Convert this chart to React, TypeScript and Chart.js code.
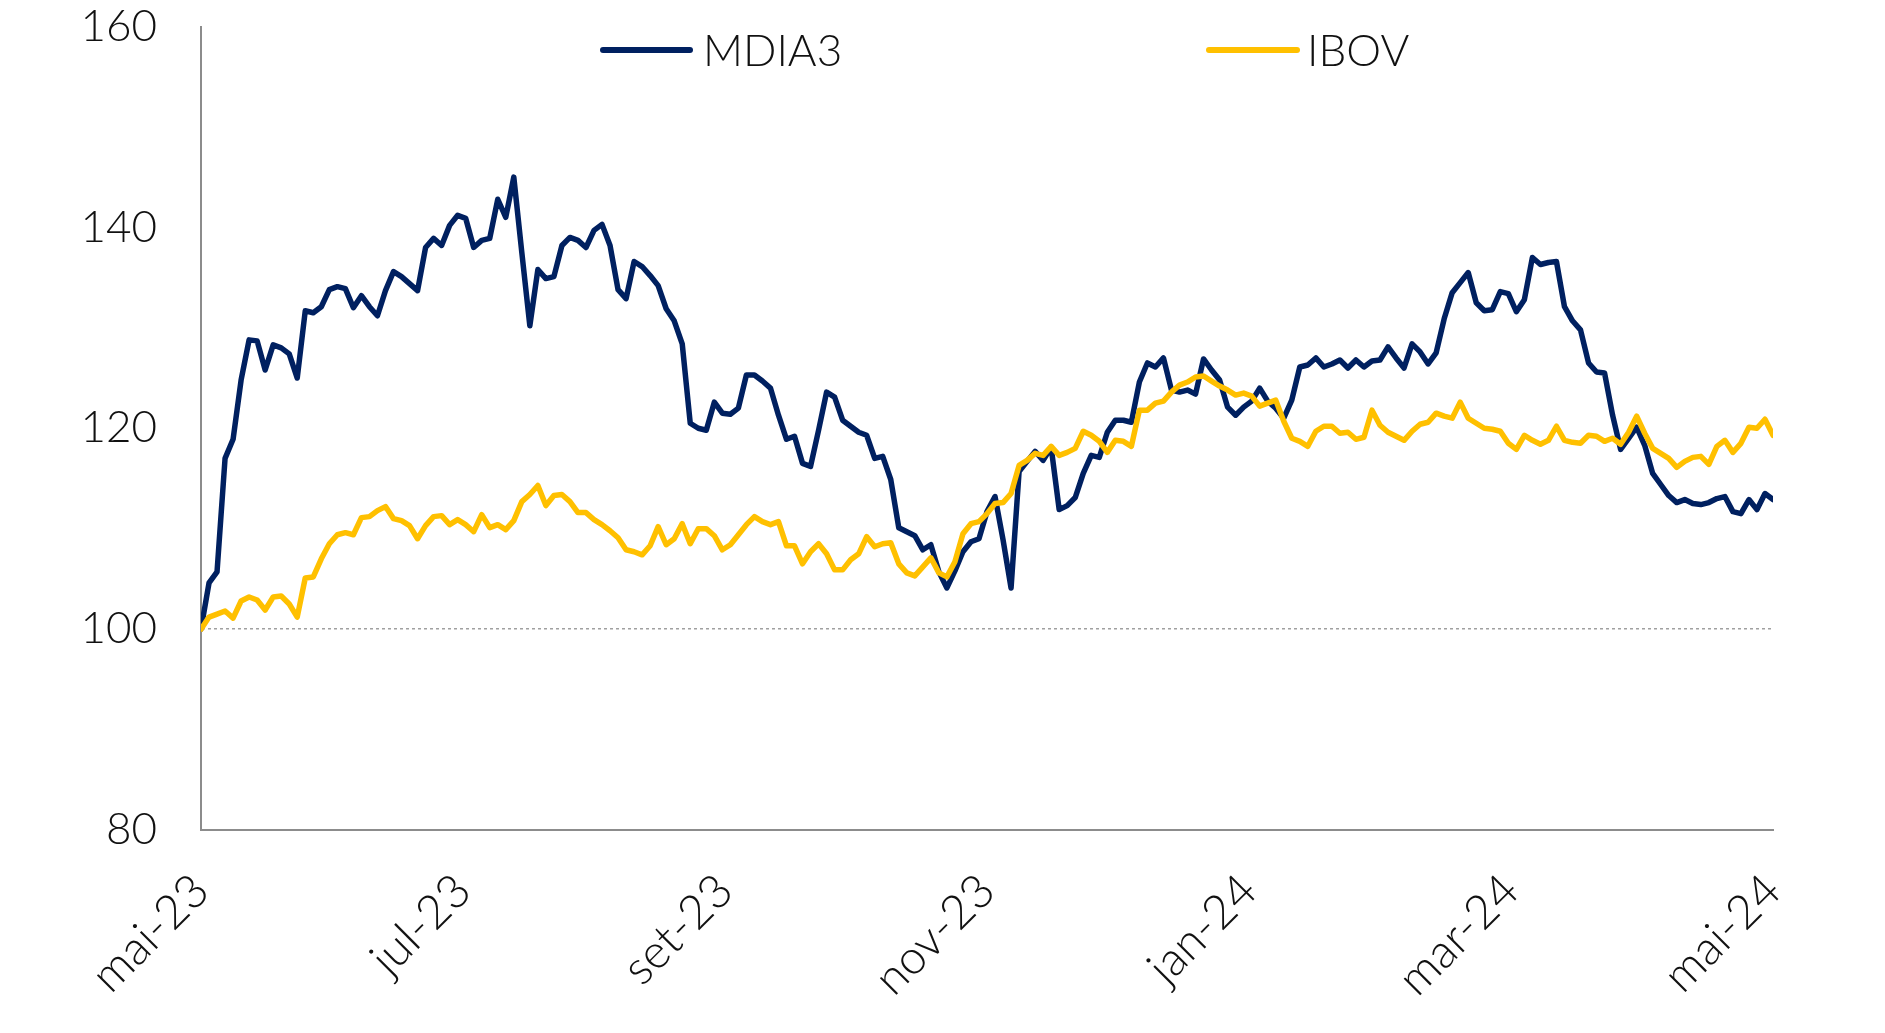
import React, { useEffect, useRef } from "react";
import { Chart, registerables } from "chart.js";

Chart.register(...registerables);

const monthLabels = ["mai-23", "jul-23", "set-23", "nov-23", "jan-24", "mar-24", "mai-24"];
const yTicks = [80, 100, 120, 140, 160];

const mdia3 = [
  100.0, 104.6, 105.7, 117.0, 118.9, 124.8, 128.8, 128.7, 125.8, 128.3,
  128.0, 127.4, 125.0, 131.7, 131.5, 132.1, 133.8, 134.1, 133.9, 132.0,
  133.2, 132.1, 131.2, 133.7, 135.6, 135.1, 134.4, 133.7, 138.0, 138.9,
  138.2, 140.2, 141.2, 140.9, 138.0, 138.7, 138.9, 142.8, 141.0, 145.0,
  137.5, 130.2, 135.8, 134.9, 135.1, 138.2, 139.0, 138.7, 138.0, 139.7,
  140.3, 138.2, 133.8, 132.9, 136.6, 136.1, 135.2, 134.2, 131.9, 130.7,
  128.4, 120.5, 120.0, 119.8, 122.6, 121.5, 121.4, 122.0, 125.3, 125.3,
  124.7, 124.0, 121.3, 118.9, 119.2, 116.5, 116.2, 119.8, 123.6, 123.1,
  120.8, 120.2, 119.6, 119.3, 117.0, 117.2, 114.9, 110.1, 109.7, 109.3,
  107.9, 108.4, 105.7, 104.1, 105.8, 107.7, 108.7, 109.0, 111.7, 113.2,
  108.9, 104.1, 115.7, 116.7, 117.7, 116.8, 118.1, 111.9, 112.3, 113.1,
  115.5, 117.3, 117.1, 119.6, 120.8, 120.8, 120.6, 124.6, 126.5, 126.1,
  127.0, 123.8, 123.6, 123.8, 123.4, 126.9, 125.8, 124.8, 122.1, 121.3,
  122.1, 122.7, 124.0, 122.7, 122.0, 121.0, 122.8, 126.1, 126.3, 127.0,
  126.1, 126.4, 126.8, 126.0, 126.8, 126.1, 126.7, 126.8, 128.1, 127.0,
  126.0, 128.4, 127.6, 126.4, 127.5, 130.9, 133.5, 134.5, 135.5, 132.5,
  131.7, 131.8, 133.6, 133.4, 131.6, 132.8, 137.0, 136.3, 136.5, 136.6,
  132.1, 130.7, 129.8, 126.5, 125.6, 125.5, 121.3, 117.9, 119.0, 120.1,
  118.3, 115.5, 114.4, 113.3, 112.6, 112.9, 112.5, 112.4, 112.6, 113.0,
  113.2, 111.7, 111.5, 112.9, 111.9, 113.5, 112.9,
];

const ibov = [
  100.0, 101.2, 101.5, 101.8, 101.1, 102.8, 103.2, 102.9, 101.9, 103.2,
  103.3, 102.5, 101.2, 105.1, 105.2, 107.0, 108.5, 109.4, 109.6, 109.4,
  111.1, 111.2, 111.8, 112.2, 111.0, 110.8, 110.3, 109.0, 110.3, 111.2,
  111.3, 110.4, 110.9, 110.4, 109.7, 111.4, 110.1, 110.4, 109.9, 110.8,
  112.7, 113.4, 114.3, 112.3, 113.3, 113.4, 112.7, 111.6, 111.6, 110.9,
  110.4, 109.8, 109.1, 107.9, 107.7, 107.4, 108.3, 110.2, 108.4, 109.0,
  110.5, 108.5, 110.0, 110.0, 109.3, 107.9, 108.4, 109.4, 110.4, 111.2,
  110.7, 110.4, 110.7, 108.3, 108.3, 106.5, 107.7, 108.5, 107.5, 105.9,
  105.9, 106.9, 107.5, 109.2, 108.2, 108.5, 108.6, 106.5, 105.6, 105.3,
  106.2, 107.1, 105.6, 105.2, 106.7, 109.5, 110.5, 110.7, 111.5, 112.5,
  112.6, 113.5, 116.3, 116.8, 117.5, 117.3, 118.2, 117.3, 117.6, 118.0,
  119.7, 119.3, 118.7, 117.6, 118.8, 118.7, 118.2, 121.8, 121.8, 122.5,
  122.7, 123.6, 124.3, 124.6, 125.1, 125.2, 124.7, 124.2, 123.8, 123.3,
  123.5, 123.2, 122.2, 122.5, 122.8, 120.7, 119.0, 118.7, 118.2, 119.7,
  120.2, 120.2, 119.5, 119.6, 118.9, 119.1, 121.8, 120.3, 119.6, 119.2,
  118.8, 119.7, 120.4, 120.6, 121.5, 121.2, 121.0, 122.6, 121.0, 120.5,
  120.0, 119.9, 119.7, 118.5, 117.9, 119.3, 118.8, 118.4, 118.8, 120.2,
  118.8, 118.6, 118.5, 119.3, 119.2, 118.7, 119.0, 118.4, 119.6, 121.2,
  119.5, 118.0, 117.5, 117.0, 116.1, 116.7, 117.1, 117.2, 116.4, 118.2,
  118.8, 117.6, 118.5, 120.1, 120.0, 120.9, 119.3,
];

const FONT = "Lato";

export default function App() {
  const ref = useRef<HTMLCanvasElement>(null);

  useEffect(() => {
    if (!ref.current) return;
    const last = mdia3.length - 1;
    const toPts = (arr: number[]) => arr.map((v, i) => ({ x: i, y: v }));

    const legendPlugin = {
      id: "customLegend",
      afterDraw(chart: any) {
        const ctx = chart.ctx;
        const spots = [
          { x0: 603, x1: 690, tx: 703 },
          { x0: 1209, x1: 1297, tx: 1307 },
        ];
        const y = 50;
        chart.data.datasets.forEach((ds: any, i: number) => {
          const s = spots[i];
          ctx.save();
          ctx.strokeStyle = ds.borderColor;
          ctx.lineWidth = 6;
          ctx.lineCap = "round";
          ctx.beginPath();
          ctx.moveTo(s.x0, y);
          ctx.lineTo(s.x1, y);
          ctx.stroke();
          ctx.fillStyle = "#111";
          ctx.font = `300 44px ${FONT}`;
          ctx.textBaseline = "middle";
          ctx.textAlign = "left";
          ctx.fillText(ds.label, s.tx, y + 2);
          ctx.restore();
        });
      },
    };

    const lineStyle = {
      borderWidth: 5.5,
      pointRadius: 0,
      tension: 0,
      borderJoinStyle: "round",
      borderCapStyle: "round",
    };

    const chart = new Chart(ref.current, {
      type: "line",
      data: {
        datasets: [
          { label: "MDIA3", data: toPts(mdia3), borderColor: "#002060", backgroundColor: "#002060", order: 1, ...lineStyle },
          { label: "IBOV", data: toPts(ibov), borderColor: "#FFC000", backgroundColor: "#FFC000", order: 0, ...lineStyle },
        ],
      },
      options: {
        responsive: false,
        animation: false,
        layout: { padding: { left: 0, top: 26.5, right: 112, bottom: 0 } },
        plugins: {
          legend: { display: false },
          tooltip: { enabled: false },
        },
        scales: {
          x: {
            type: "linear",
            min: 0,
            max: last,
            afterBuildTicks: (axis: any) => {
              axis.ticks = monthLabels.map((_, i) => ({ value: (i * last) / (monthLabels.length - 1) }));
            },
            afterFit: (axis: any) => {
              axis.height = 1033 - 830;
            },
            grid: { display: false, drawTicks: false },
            border: { display: true, color: "#8c8c8c", width: 2 },
            ticks: {
              autoSkip: false,
              minRotation: 45,
              maxRotation: 45,
              padding: 33,
              color: "#111",
              font: { family: FONT, weight: "300", size: 47 },
              callback: (_v: any, i: number) => monthLabels[i],
            },
          },
          y: {
            min: 80,
            max: 160,
            afterBuildTicks: (axis: any) => {
              axis.ticks = yTicks.map((v) => ({ value: v }));
            },
            afterFit: (axis: any) => {
              axis.width = 201;
              axis.paddingTop = 20;
              axis.paddingBottom = 20;
            },
            grid: {
              drawTicks: false,
              lineWidth: 1.5,
              color: (c: any) => (c.tick && c.tick.value === 100 ? "#a0a0a0" : "rgba(0,0,0,0)"),
            },
            border: { display: true, color: "#8c8c8c", width: 2, dash: [3, 3] },
            ticks: {
              padding: 44,
              color: "#111",
              font: { family: FONT, weight: "300", size: 44 },
            },
          },
        },
      },
      plugins: [legendPlugin],
    } as any);

    return () => chart.destroy();
  }, []);

  return (
    <canvas
      ref={ref}
      width={1885}
      height={1033}
      style={{ position: "absolute", left: 0, top: 0, width: 1885, height: 1033 }}
    />
  );
}
